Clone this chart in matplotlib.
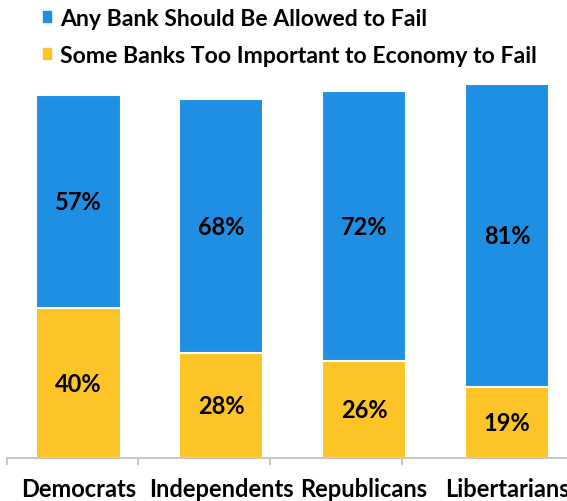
import matplotlib.pyplot as plt
from matplotlib.patches import Patch

# data
groups = ["Democrats", "Independents", "Republicans", "Libertarians"]
too_important = [40, 28, 26, 19]
allowed_to_fail = [57, 68, 72, 81]

blue = "#1E8FE3"
yellow = "#FCC426"
grey = "#BDBDBD"
fs = 17

plt.rcParams['font.family'] = ['Lato', 'DejaVu Sans']
plt.rcParams['font.weight'] = 'bold'

fig = plt.figure(figsize=(5.67, 5.02), dpi=100)
ax = fig.add_axes([7 / 567, 43 / 502, 560 / 567, 374 / 502])

x = list(range(len(groups)))
width = 0.59
ax.bar(x, too_important, width, color=yellow, edgecolor="white", linewidth=1.5)
ax.bar(x, allowed_to_fail, width, bottom=too_important,
       color=blue, edgecolor="white", linewidth=1.5)

# value labels in the middle of each segment
for i in x:
    ax.text(i, too_important[i] / 2, f"{too_important[i]}%",
            ha="center", va="center", fontsize=fs, fontweight="bold")
    ax.text(i, too_important[i] + allowed_to_fail[i] / 2,
            f"{allowed_to_fail[i]}%",
            ha="center", va="center", fontsize=fs, fontweight="bold")

ax.set_xlim(-0.5, 3.42)
ax.set_ylim(0, 100)

# axis styling
for side in ["top", "right", "left"]:
    ax.spines[side].set_visible(False)
ax.spines["bottom"].set_color(grey)
ax.spines["bottom"].set_linewidth(1.2)
ax.set_yticks([])

ax.set_xticks(x)
ax.set_xticklabels(groups, fontsize=fs, fontweight="bold")
ax.tick_params(axis="x", which="major", length=0, pad=14)
ax.set_xticks([-0.497, 0.42, 1.343, 2.266], minor=True)
ax.tick_params(axis="x", which="minor", length=5, width=1.2, color=grey)

handles = [Patch(color=blue), Patch(color=yellow)]
labels = ["Any Bank Should Be Allowed to Fail",
          "Some Banks Too Important to Economy to Fail"]
fig.legend(handles, labels, loc="upper left", bbox_to_anchor=(43 / 567, 1 - 9 / 502),
           frameon=False, handlelength=0.36, handleheight=0.36,
           handletextpad=0.38, labelspacing=0.68, borderpad=0, borderaxespad=0,
           prop={'weight': 'bold', 'size': 16.6})

fig.savefig("out.png", dpi=100)
